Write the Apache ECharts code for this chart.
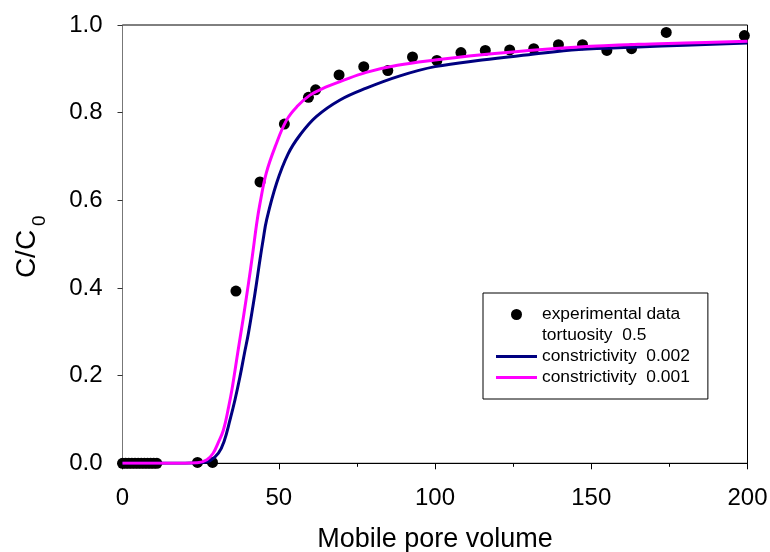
<!DOCTYPE html>
<html>
<head>
<meta charset="utf-8">
<script src="https://cdn.jsdelivr.net/npm/echarts@6/dist/echarts.min.js"></script>
<style>
  html, body { margin: 0; padding: 0; background: #fff; }
  #chart { width: 770px; height: 552px; }
</style>
</head>
<body>
<div id="chart"></div>
<script>
// Breakthrough curve: measured relative concentration vs. mobile pore volume,
// with two model fits (tortuosity 0.5, two constrictivity values).

const expX = [0, 1, 2, 3, 4, 5, 6, 7, 8, 9, 10, 11,
  24, 28.8, 36.3, 44.0, 51.8, 59.5, 61.8, 69.3, 77.2, 84.9, 92.8, 100.6,
  108.3, 116.1, 123.9, 131.6, 139.5, 147.2, 155.0, 162.9, 174.0, 199.0];
const expY = [0, 0, 0, 0, 0, 0, 0, 0, 0, 0, 0, 0,
  0.002, 0.002, 0.393, 0.642, 0.774, 0.835, 0.852, 0.886, 0.905, 0.896, 0.927, 0.919,
  0.937, 0.942, 0.943, 0.946, 0.955, 0.955, 0.942, 0.946, 0.983, 0.976];

// constrictivity 0.002
const fit2X = [0, 20, 25, 28, 30.7, 32.5, 34.4, 36, 37.6, 39, 40.3, 42.4, 44, 45, 46.1,
  49.3, 53, 56.8, 62, 69.6, 78, 88.8, 100, 115, 130, 146, 165, 180, 200];
const fit2Y = [0, 0, 0.001, 0.006, 0.023, 0.05, 0.099, 0.145, 0.198, 0.25, 0.297, 0.388, 0.465, 0.51, 0.555,
  0.639, 0.706, 0.749, 0.791, 0.829, 0.856, 0.884, 0.905, 0.92, 0.932, 0.944, 0.95, 0.954, 0.959];

// constrictivity 0.001
const fit1X = [0, 20, 24, 27, 29, 30.5, 32.3, 34, 35, 37, 38.7, 40.3, 41.5, 43, 44, 46,
  49, 52.5, 56, 60, 65, 70, 78, 88, 100, 115, 130, 146, 165, 180, 200];
const fit1Y = [0, 0, 0.001, 0.008, 0.023, 0.045, 0.076, 0.13, 0.167, 0.258, 0.334, 0.41, 0.47, 0.55, 0.593, 0.662,
  0.725, 0.783, 0.815, 0.84, 0.858, 0.872, 0.892, 0.908, 0.92, 0.932, 0.942, 0.95, 0.956, 0.959, 0.963];

const seriesNames = ['experimental data', 'tortuosity  0.5', 'constrictivity  0.002', 'constrictivity  0.001'];
const xTitle = 'Mobile pore volume';

const pairs = (xs, ys) => xs.map((x, i) => [x, ys[i]]);
const FONT = '"Liberation Sans", Arial, sans-serif';
// short thick bar used as the legend key for the fitted lines
const LINE_ICON = 'path://M0,0L41,0L41,3L0,3Z';

const chart = echarts.init(document.getElementById('chart'), null, { renderer: 'canvas' });

chart.setOption({
  animation: false,
  backgroundColor: '#ffffff',
  grid: {
    left: 122.5, right: 22.5, top: 25, bottom: 88.7,
    outerBoundsMode: 'none', containLabel: false,
    show: true, borderColor: '#000', borderWidth: 1, backgroundColor: 'transparent'
  },
  xAxis: {
    type: 'value', min: 0, max: 200, interval: 50,
    name: xTitle, nameLocation: 'middle', nameGap: 63,
    nameTextStyle: { fontFamily: FONT, fontSize: 27, color: '#000' },
    axisLine: { onZero: false, lineStyle: { color: '#000', width: 1 } },
    axisTick: { show: true, inside: false, length: 6, lineStyle: { color: '#000' } },
    minorTick: { show: true, splitNumber: 2, length: 3.5, lineStyle: { color: '#000' } },
    axisLabel: { fontFamily: FONT, fontSize: 24, color: '#000', margin: 23 },
    splitLine: { show: false }
  },
  yAxis: {
    type: 'value', min: 0, max: 1, interval: 0.2,
    axisLine: { show: true, onZero: false, lineStyle: { color: '#777', width: 1 } },
    axisTick: { show: true, inside: false, length: 5, lineStyle: { color: '#333' } },
    axisLabel: { fontFamily: FONT, fontSize: 24, color: '#000', margin: 20,
      formatter: v => v.toFixed(1) },
    splitLine: { show: false }
  },
  legend: {
    orient: 'vertical',
    left: 483, top: 293,
    padding: [13, 18, 13, 13],
    itemGap: 4,
    itemWidth: 41, itemHeight: 11,
    borderColor: '#000', borderWidth: 1,
    backgroundColor: '#fff',
    textStyle: { fontFamily: FONT, fontSize: 17.4, color: '#000' },
    data: [
      { name: seriesNames[0], icon: 'circle' },
      { name: seriesNames[1], icon: 'none' },
      { name: seriesNames[2], icon: LINE_ICON },
      { name: seriesNames[3], icon: LINE_ICON }
    ]
  },
  graphic: [
    {
      type: 'group', x: 27, y: 230, rotation: Math.PI / 2,
      children: [
        { type: 'text', x: -24, y: 0,
          style: { text: 'C/C', font: '28px ' + FONT, fill: '#000', align: 'center', verticalAlign: 'middle' } },
        { type: 'text', x: 4, y: 13,
          style: { text: '0', font: '19px ' + FONT, fill: '#000', align: 'left', verticalAlign: 'middle' } }
      ]
    }
  ],
  series: [
    {
      name: seriesNames[0], type: 'scatter', clip: false,
      symbol: 'circle', symbolSize: 11,
      itemStyle: { color: '#000', opacity: 1 },
      data: pairs(expX, expY), z: 2
    },
    {
      name: seriesNames[1], type: 'line', data: [],
      symbol: 'none', lineStyle: { color: 'transparent' }, itemStyle: { color: 'transparent' }
    },
    {
      name: seriesNames[2], type: 'line', symbol: 'none', smooth: 0.4,
      lineStyle: { color: '#000080', width: 3 }, itemStyle: { color: '#000080' },
      data: pairs(fit2X, fit2Y), z: 3
    },
    {
      name: seriesNames[3], type: 'line', symbol: 'none', smooth: 0.4,
      lineStyle: { color: '#ff00ff', width: 3 }, itemStyle: { color: '#ff00ff' },
      data: pairs(fit1X, fit1Y), z: 4
    }
  ]
});
</script>
</body>
</html>
